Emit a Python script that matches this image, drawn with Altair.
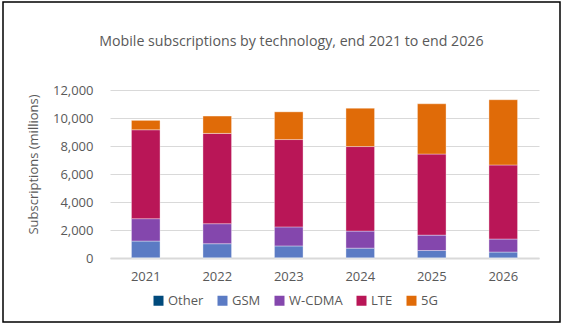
import altair as alt
import pandas as pd

years = ["2021", "2022", "2023", "2024", "2025", "2026"]
techs = ["Other", "GSM", "W-CDMA", "LTE", "5G"]
other = [20, 20, 20, 15, 15, 15]
gsm = [1190, 1000, 840, 690, 520, 410]
wcdma = [1600, 1430, 1360, 1215, 1100, 930]
lte = [6350, 6450, 6240, 6040, 5790, 5290]
g5 = [670, 1240, 1980, 2740, 3590, 4660]
colors = ["#004a7c", "#5b7bc4", "#8447ad", "#b91657", "#e06b08"]

series = {"Other": other, "GSM": gsm, "W-CDMA": wcdma, "LTE": lte, "5G": g5}
rows = []
for t_i, t in enumerate(techs):
    for y_i, y in enumerate(years):
        rows.append({"year": y, "tech": t, "value": series[t][y_i], "order": t_i})
df = pd.DataFrame(rows)

FONT = "Open Sans"
GREY = "#595959"

bars = alt.Chart(df).mark_bar(stroke="white", strokeWidth=0.6, strokeOpacity=0.6).encode(
    x=alt.X("year:N", sort=years,
            scale=alt.Scale(paddingInner=0.6, paddingOuter=0.3),
            axis=alt.Axis(title=None, labelAngle=0, ticks=False, domain=True,
                          domainColor="#d9d9d9", domainWidth=2,
                          labelFont=FONT, labelFontSize=13, labelColor=GREY,
                          labelPadding=12)),
    y=alt.Y("value:Q", stack="zero",
            scale=alt.Scale(domain=[0, 12000], nice=False),
            axis=alt.Axis(title="Subscriptions (millions)", values=[0, 2000, 4000, 6000, 8000, 10000, 12000],
                          format=",.0f", domain=False, ticks=False,
                          gridColor="#d9d9d9", gridWidth=1,
                          labelFont=FONT, labelFontSize=13, labelColor=GREY,
                          labelPadding=17,
                          titleFont=FONT, titleFontSize=13, titleColor=GREY,
                          titleFontWeight="normal",
                          titleX=-77, titleY=74, titleBaseline="middle")),
    color=alt.Color("tech:N", sort=techs,
                    scale=alt.Scale(domain=techs, range=colors),
                    legend=alt.Legend(title=None, orient="none", direction="horizontal",
                                      legendX=42, legendY=204,
                                      symbolType="square", symbolSize=100,
                                      symbolStrokeWidth=0,
                                      columnPadding=12, labelOffset=3,
                                      labelFont=FONT, labelFontSize=13, labelColor=GREY)),
    order=alt.Order("order:Q", sort="ascending"),
)

border = alt.Chart(pd.DataFrame({"a": [0]})).mark_rect(
    fill=None, stroke="black", strokeWidth=1.5
).encode(x=alt.value(-107), x2=alt.value(450), y=alt.value(-88), y2=alt.value(232))

chart = alt.layer(bars, border).properties(
    width=429, height=168,
    title=alt.TitleParams("Mobile subscriptions by technology, end 2021 to end 2026",
                          anchor="start", dx=97, dy=52,
                          font=FONT, fontSize=14.2, fontWeight="normal", color=GREY),
    autosize=alt.AutoSizeParams(type="none"),
    padding={"left": 110, "top": 90, "right": 25, "bottom": 70},
).configure_view(stroke=None)

chart.save("out.html", embed_options={"renderer": "svg", "actions": False})
